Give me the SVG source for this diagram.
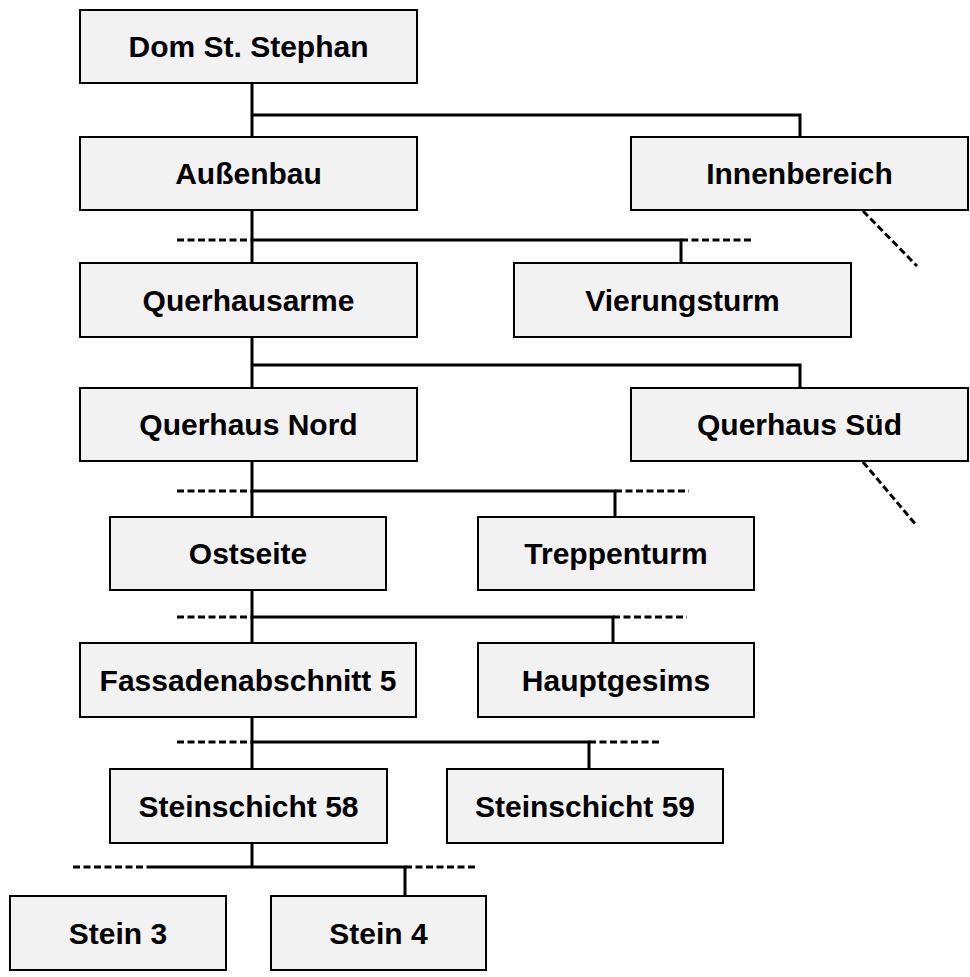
<svg xmlns="http://www.w3.org/2000/svg" width="970" height="977" viewBox="0 0 970 977">
<style>
.n rect{fill:#f2f2f2;stroke:#000;stroke-width:2}
.n text{font-family:"Liberation Sans",Arial,sans-serif;font-weight:bold;font-size:30px;text-anchor:middle;fill:#000}
.s{stroke:#000;stroke-width:3;fill:none}
.d{stroke:#000;stroke-width:3;fill:none;stroke-dasharray:7 3.5}
</style>
<rect width="970" height="977" fill="#fff"/>
<g id="connectors">
<path class="s" d="M252 83V137M252 115H800V137"/>
<path class="s" d="M252 210V263M252 240H681V263"/>
<path class="d" d="M177 240H252M681 240H754M863 211L917 266"/>
<path class="s" d="M252 337V388M252 365H800V388"/>
<path class="s" d="M252 461V517M252 491H615V517"/>
<path class="d" d="M177 491H252M615 491H689M863 462L917 526"/>
<path class="s" d="M252 590V643M252 617H613V643"/>
<path class="d" d="M177 617H252M613 617H687"/>
<path class="s" d="M252 717V769M252 742H589V769"/>
<path class="d" d="M177 742H252M589 742H661"/>
<path class="s" d="M252 843V867M147 867H405V896"/>
<path class="d" d="M73 867H147M405 867H478"/>
</g>
<g id="n1" class="n"><rect x="80" y="10" width="337" height="73"/><text x="248.5" y="57">Dom St. Stephan</text></g>
<g id="n2" class="n"><rect x="80" y="137" width="337" height="73"/><text x="248.5" y="184">Außenbau</text></g>
<g id="n3" class="n"><rect x="631" y="137" width="337" height="73"/><text x="799.5" y="184">Innenbereich</text></g>
<g id="n4" class="n"><rect x="80" y="263" width="337" height="74"/><text x="248.5" y="311">Querhausarme</text></g>
<g id="n5" class="n"><rect x="514" y="263" width="337" height="74"/><text x="682.5" y="311">Vierungsturm</text></g>
<g id="n6" class="n"><rect x="80" y="388" width="337" height="73"/><text x="248.5" y="435">Querhaus Nord</text></g>
<g id="n7" class="n"><rect x="631" y="388" width="337" height="73"/><text x="799.5" y="435">Querhaus Süd</text></g>
<g id="n8" class="n"><rect x="110" y="517" width="276" height="73"/><text x="248" y="564">Ostseite</text></g>
<g id="n9" class="n"><rect x="478" y="517" width="276" height="73"/><text x="616" y="564">Treppenturm</text></g>
<g id="n10" class="n"><rect x="80" y="643" width="336" height="74"/><text x="248" y="691">Fassadenabschnitt 5</text></g>
<g id="n11" class="n"><rect x="478" y="643" width="276" height="74"/><text x="616" y="691">Hauptgesims</text></g>
<g id="n12" class="n"><rect x="110" y="769" width="277" height="74"/><text x="248.5" y="817">Steinschicht 58</text></g>
<g id="n13" class="n"><rect x="447" y="769" width="276" height="74"/><text x="585" y="817">Steinschicht 59</text></g>
<g id="n14" class="n"><rect x="10" y="896" width="216" height="74"/><text x="118" y="944">Stein 3</text></g>
<g id="n15" class="n"><rect x="271" y="896" width="215" height="74"/><text x="378.5" y="944">Stein 4</text></g>
</svg>
